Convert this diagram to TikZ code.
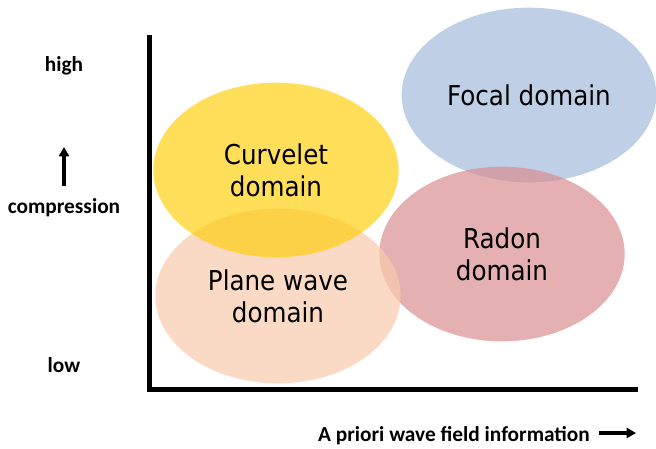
\documentclass[tikz,border=0pt]{standalone}
\usepackage{fontspec}
\setmainfont{Carlito}
\newfontfamily\domainfont{DejaVu Sans Condensed}
\usetikzlibrary{shapes.geometric,arrows.meta}

\definecolor{curveletcol}{HTML}{FFCC00}
\definecolor{planecol}{HTML}{F8CBAD}
\definecolor{focalcol}{HTML}{94AFD6}
\definecolor{radoncol}{HTML}{D88E91}

\tikzset{
    domainbox/.style={ellipse, inner sep=0pt, minimum width=184pt, minimum height=131pt,
        align=center, font=\domainfont\fontsize{20.5}{24}\selectfont},
    axislabel/.style={font=\bfseries\fontsize{16}{19}\selectfont},
    axisarrow/.style={line width=2.3pt, -{Triangle[length=7pt,width=7.5pt]}}
}

\begin{document}
\begin{tikzpicture}[x=0.75pt,y=-0.75pt] % one unit is one pixel of the reference
    \useasboundingbox (0,0) rectangle (656,449);

    % Domains, back to front
    \node[domainbox, fill=focalcol, fill opacity=0.6, text opacity=1, minimum width=191pt] (focal) at (529,95) {Focal domain};
    \node[domainbox, fill=radoncol, fill opacity=0.7, text opacity=1] (radon) at (502,254) {Radon\\domain};
    \node[domainbox, fill=planecol, fill opacity=0.7, text opacity=1] (planewave) at (278,296) {Plane wave\\domain};
    \node[domainbox, fill=curveletcol, fill opacity=0.65, text opacity=1] (curvelet) at (276,170) {Curvelet\\domain};

    % Axes
    \coordinate (top) at (149.5,35);
    \coordinate (origin) at (149.5,389.5);
    \coordinate (right) at (638,389.5);
    \draw[line width=3.2pt, line cap=butt] (top) -- (origin) -- (right);

    % Vertical axis labels
    \node[axislabel] (high) at (64,66) {high};
    \node[axislabel] (compression) at (64,208) {compression};
    \node[axislabel] (low) at (64,365) {low};
    \coordinate (upbase) at (64,186);
    \coordinate (uptip) at (64,147);
    \draw[axisarrow] (upbase) -- (uptip);

    % Horizontal axis label
    \node[axislabel] (apriori) at (454,436) {A priori wave field information};
    \coordinate (rightbase) at (599,433);
    \coordinate (righttip) at (636,433);
    \draw[axisarrow] (rightbase) -- (righttip);
\end{tikzpicture}
\end{document}
